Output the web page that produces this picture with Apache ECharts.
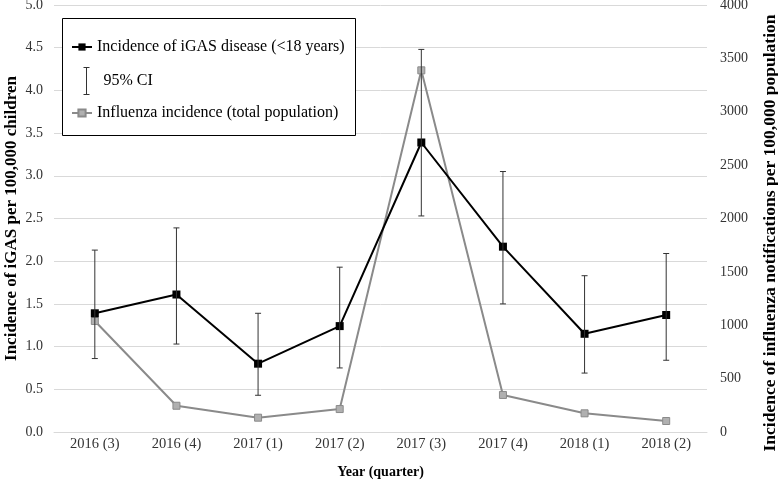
<!DOCTYPE html>
<html>
<head>
<meta charset="utf-8">
<script src="https://cdn.jsdelivr.net/npm/echarts@6/dist/echarts.min.js"></script>
<style>html,body{margin:0;padding:0;background:#fff}#c{width:778px;height:485px}</style>
</head>
<body>
<div id="c"></div>
<script>
var categories = ['2016 (3)', '2016 (4)', '2017 (1)', '2017 (2)', '2017 (3)', '2017 (4)', '2018 (1)', '2018 (2)'];
var igasIncidence = [1.39, 1.61, 0.80, 1.24, 3.39, 2.17, 1.15, 1.37];
var ciLower = [0.86, 1.03, 0.43, 0.75, 2.53, 1.50, 0.69, 0.84];
var ciUpper = [2.13, 2.39, 1.39, 1.93, 4.48, 3.05, 1.83, 2.09];
var influenzaIncidence = [1040, 246, 134, 215, 3388, 347, 175, 103];
var leftTicks = [0, 0.5, 1.0, 1.5, 2.0, 2.5, 3.0, 3.5, 4.0, 4.5, 5.0];
var rightTicks = [0, 500, 1000, 1500, 2000, 2500, 3000, 3500, 4000];

var FONT = "'Liberation Serif', 'Times New Roman', serif";
var ciData = categories.map(function (c, i) { return [i, ciLower[i], ciUpper[i]]; });

var chart = echarts.init(document.getElementById('c'), null, { renderer: 'canvas' });
chart.setOption({
  animation: false,
  backgroundColor: '#fff',
  textStyle: { fontFamily: FONT },
  grid: { left: 54, right: 71, top: 5, bottom: 53, outerBoundsMode: 'none', containLabel: false },
  xAxis: {
    type: 'category',
    data: categories,
    boundaryGap: true,
    axisLine: { show: true, lineStyle: { color: '#d9d9d9', width: 1 } },
    axisTick: { show: false },
    axisLabel: { fontFamily: FONT, fontSize: 14.5, color: '#333', margin: 5 },
    name: 'Year (quarter)',
    nameLocation: 'middle',
    nameGap: 33,
    nameMoveOverlap: false,
    nameTextStyle: { fontFamily: FONT, fontSize: 14, fontWeight: 'bold', color: '#000' }
  },
  yAxis: [{
    type: 'value',
    min: leftTicks[0],
    max: leftTicks[leftTicks.length - 1],
    interval: 0.5,
    axisLine: { show: false },
    axisTick: { show: false },
    splitLine: { show: true, lineStyle: { color: '#d9d9d9', width: 1 } },
    axisLabel: { fontFamily: FONT, fontSize: 14, color: '#333', margin: 11,
      formatter: function (v) { return v.toFixed(1); } },
    name: 'Incidence of iGAS per 100,000 children',
    nameLocation: 'middle',
    nameGap: 34,
    nameMoveOverlap: false,
    nameTextStyle: { fontFamily: FONT, fontSize: 17, fontWeight: 'bold', color: '#000' }
  }, {
    type: 'value',
    position: 'right',
    min: rightTicks[0],
    max: rightTicks[rightTicks.length - 1],
    interval: 500,
    axisLine: { show: false },
    axisTick: { show: false },
    splitLine: { show: false },
    axisLabel: { fontFamily: FONT, fontSize: 14, color: '#333', margin: 13,
      formatter: function (v) { return String(v); } }
  }],
  graphic: [{
    type: 'rect',
    z: 3,
    shape: { x: 62.5, y: 18.5, width: 293, height: 117 },
    style: { fill: '#fff', stroke: '#000', lineWidth: 1 }
  }, {
    type: 'text',
    z: 3,
    x: 770, y: 233,
    rotation: Math.PI / 2,
    style: {
      text: 'Incidence of influenza notifications per 100,000 population',
      font: 'bold 17.5px ' + FONT,
      fill: '#000',
      align: 'center',
      verticalAlign: 'middle'
    }
  }],
  legend: [{
    data: ['Incidence of iGAS disease (<18 years)'],
    left: 71, top: 39, padding: 0,
    itemWidth: 20, itemHeight: 9, itemGap: 0,
    textStyle: { fontFamily: FONT, fontSize: 16, color: '#000' }
  }, {
    data: [{ name: '95% CI', icon: 'path://M0,0L6,0M3,0L3,27M0,27L6,27' }],
    left: 81, top: 65, padding: 0,
    itemWidth: 6, itemHeight: 27,
    itemStyle: { color: 'none', borderColor: '#333', borderWidth: 1 },
    textStyle: { fontFamily: FONT, fontSize: 16, color: '#000', padding: [0, 0, 0, 9] }
  }, {
    data: ['Influenza incidence (total population)'],
    left: 71, top: 105, padding: 0,
    itemWidth: 20, itemHeight: 9,
    textStyle: { fontFamily: FONT, fontSize: 16, color: '#000' }
  }],
  series: [{
    name: 'Influenza incidence (total population)',
    type: 'line',
    yAxisIndex: 1,
    data: influenzaIncidence,
    symbol: 'rect',
    symbolSize: 7,
    lineStyle: { color: '#8a8a8a', width: 2 },
    itemStyle: { color: '#b0b0b0', borderColor: '#8a8a8a', borderWidth: 1 },
    z: 2
  }, {
    name: 'Incidence of iGAS disease (<18 years)',
    type: 'line',
    yAxisIndex: 0,
    data: igasIncidence,
    symbol: 'rect',
    symbolSize: 8,
    lineStyle: { color: '#000', width: 2 },
    itemStyle: { color: '#000' },
    z: 3
  }, {
    name: '95% CI',
    type: 'custom',
    yAxisIndex: 0,
    data: ciData,
    encode: { x: 0, y: [1, 2] },
    itemStyle: { color: '#333' },
    z: 4,
    renderItem: function (params, api) {
      var x = api.value(0);
      var lo = api.coord([x, api.value(1)]);
      var hi = api.coord([x, api.value(2)]);
      var w = 3;
      var st = { stroke: '#333', lineWidth: 1 };
      return {
        type: 'group',
        children: [
          { type: 'line', shape: { x1: hi[0], y1: hi[1], x2: lo[0], y2: lo[1] }, style: st },
          { type: 'line', shape: { x1: hi[0] - w, y1: hi[1], x2: hi[0] + w, y2: hi[1] }, style: st },
          { type: 'line', shape: { x1: lo[0] - w, y1: lo[1], x2: lo[0] + w, y2: lo[1] }, style: st }
        ]
      };
    }
  }]
});
</script>
</body>
</html>
